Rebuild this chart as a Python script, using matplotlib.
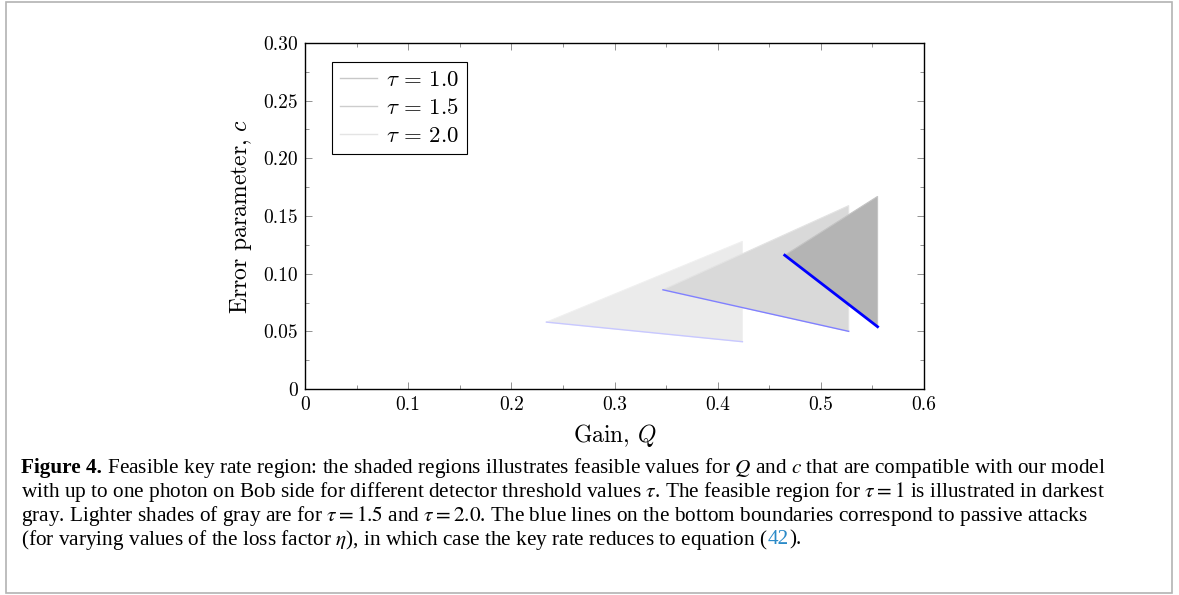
import numpy as np
import matplotlib.pyplot as plt
from matplotlib.ticker import MultipleLocator, FixedLocator

plt.rcParams['font.family'] = 'serif'
plt.rcParams['font.serif'] = ['cmr10']
plt.rcParams['mathtext.fontset'] = 'cm'
plt.rcParams['axes.formatter.use_mathtext'] = True

# feasible regions (triangle vertices: left tip, upper right, lower right)
taus = ["1.0", "1.5", "2.0"]
q_pts = {
    "1.0": [0.465, 0.555, 0.555],
    "1.5": [0.347, 0.527, 0.527],
    "2.0": [0.234, 0.424, 0.424],
}
c_pts = {
    "1.0": [0.116, 0.167, 0.054],
    "1.5": [0.086, 0.159, 0.050],
    "2.0": [0.058, 0.128, 0.041],
}
fill_cols = {"1.0": "#b4b4b4", "1.5": "#d9d9d9", "2.0": "#ebebeb"}
edge_cols = {"1.0": "#c4c4c4", "1.5": "#e3e3e3", "2.0": "#f0f0f0"}
legend_cols = {"1.0": "#c8c8c8", "1.5": "#cdcdcd", "2.0": "#e4e4e4"}
blue_cols = {"1.0": "#0000ff", "1.5": "#8080ff", "2.0": "#c8c8ff"}
blue_lw = {"1.0": 2.0, "1.5": 1.0, "2.0": 1.0}

x_ticks = [0, 0.1, 0.2, 0.3, 0.4, 0.5, 0.6]
x_labels = ["0", "0.1", "0.2", "0.3", "0.4", "0.5", "0.6"]
y_ticks = [0, 0.05, 0.10, 0.15, 0.20, 0.25, 0.30]
y_labels = ["0", "0.05", "0.10", "0.15", "0.20", "0.25", "0.30"]

fig = plt.figure(figsize=(11.79, 5.95), dpi=100)
ax = fig.add_axes([305 / 1179, 1 - 389 / 595, 619 / 1179, 346 / 595])

for t in ["2.0", "1.5", "1.0"]:
    q, c = q_pts[t], c_pts[t]
    ax.fill(q, c, facecolor=fill_cols[t], edgecolor=edge_cols[t], lw=0.8, zorder=2)
for t in ["2.0", "1.5", "1.0"]:
    q, c = q_pts[t], c_pts[t]
    ax.plot([q[0], q[2]], [c[0], c[2]], color=blue_cols[t], lw=blue_lw[t], zorder=3)

handles = []
for t in taus:
    h, = ax.plot([], [], color=legend_cols[t], lw=1.0, label=r"$\tau\,=\,%s$" % t)
    handles.append(h)
leg = ax.legend(handles=handles, loc="upper left", bbox_to_anchor=(0.044, 0.945),
                fontsize=16.5, frameon=True, fancybox=False, framealpha=1,
                edgecolor="black", handlelength=1.6, handletextpad=0.4,
                borderpad=0.35, labelspacing=0.35, borderaxespad=0)
leg.get_frame().set_linewidth(0.8)

ax.set_xlim(0, 0.6)
ax.set_ylim(0, 0.30)
ax.xaxis.set_major_locator(FixedLocator(x_ticks))
ax.set_xticklabels(x_labels)
ax.yaxis.set_major_locator(FixedLocator(y_ticks))
ax.set_yticklabels(y_labels)
ax.xaxis.set_minor_locator(MultipleLocator(0.05))
ax.yaxis.set_minor_locator(MultipleLocator(0.025))
ax.tick_params(which="both", direction="in", top=True, right=True,
               labelsize=14, color="#808080", width=0.6)
ax.tick_params(which="major", length=5, pad=5)
ax.tick_params(which="minor", length=3)
for s in ax.spines.values():
    s.set_linewidth(1.0)

ax.set_xlabel(r"Gain, $Q$", fontsize=17, labelpad=6)
ax.set_ylabel(r"Error parameter, $c$", fontsize=17, labelpad=7)

# outer frame
fig.patches.append(plt.Rectangle((6 / 1179, 2 / 595), 1166 / 1179, 591 / 595,
                                 transform=fig.transFigure, fill=False,
                                 edgecolor="#b3b3b3", lw=1.2))

# caption
cap_kw = dict(fontsize=15.3, family="Liberation Serif", math_fontfamily="stix",
              va="center", ha="left")
lines_y = [468, 492, 516, 540]
fig.canvas.draw()
r = fig.canvas.get_renderer()
x0 = 21 / 1179
t1 = fig.text(x0, 1 - lines_y[0] / 595, "Figure 4.", fontweight="bold", **cap_kw)
bb = t1.get_window_extent(r)
fig.text(bb.x1 / 1179, 1 - lines_y[0] / 595,
         r" Feasible key rate region: the shaded regions illustrates feasible values for $Q$ and $c$ that are compatible with our model",
         **cap_kw)
fig.text(x0, 1 - lines_y[1] / 595,
         r"with up to one photon on Bob side for different detector threshold values $\tau$. The feasible region for $\tau=1$ is illustrated in darkest",
         **cap_kw)
fig.text(x0, 1 - lines_y[2] / 595,
         r"gray. Lighter shades of gray are for $\tau=1.5$ and $\tau=2.0$. The blue lines on the bottom boundaries correspond to passive attacks",
         **cap_kw)
t4 = fig.text(x0, 1 - lines_y[3] / 595,
              r"(for varying values of the loss factor $\eta$), in which case the key rate reduces to equation (",
              **cap_kw)
bb = t4.get_window_extent(r)
t5 = fig.text((bb.x1 + 0.5) / 1179, 1 - lines_y[3] / 595, "42", color="#2a8ac8", **cap_kw)
bb = t5.get_window_extent(r)
fig.text((bb.x1 + 0.5) / 1179, 1 - lines_y[3] / 595, ").", **cap_kw)

fig.savefig("out.png", dpi=100)
